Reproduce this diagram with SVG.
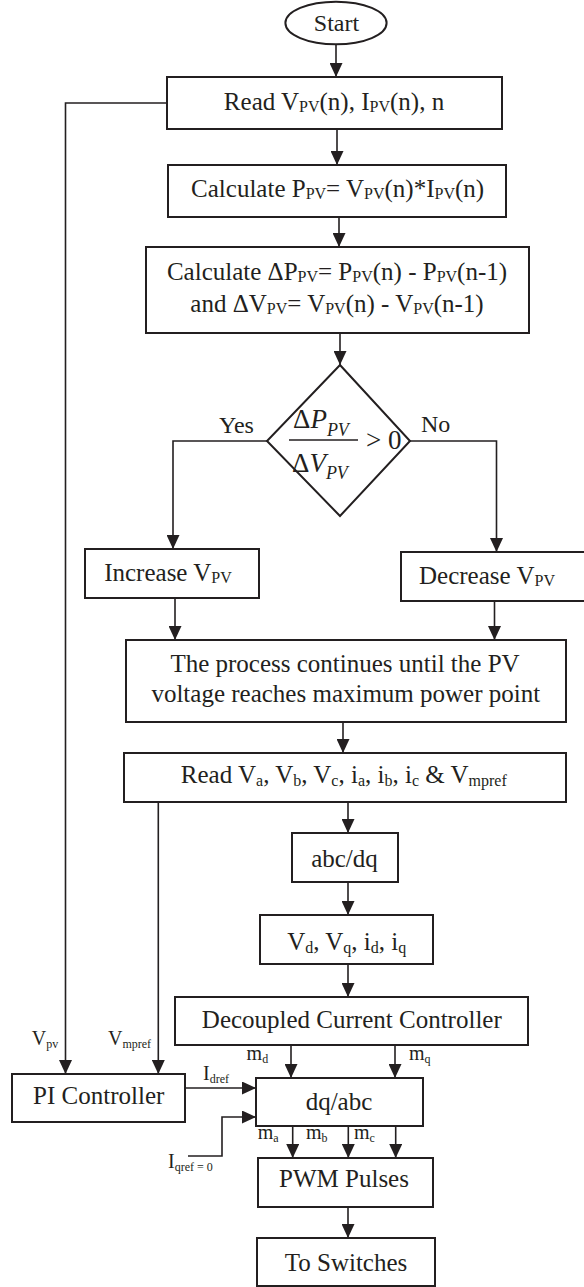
<svg xmlns="http://www.w3.org/2000/svg" width="584" height="1287" viewBox="0 0 584 1287">
<style>
.box{fill:#fff;stroke:#231f20;stroke-width:2}
.ln{fill:none;stroke:#231f20;stroke-width:1.6}
.t{font-family:"Liberation Serif","Times New Roman",serif;font-size:25px;fill:#231f20;text-anchor:middle}
.l{font-family:"Liberation Serif","Times New Roman",serif;font-size:20px;fill:#231f20}
.yn{font-family:"Liberation Serif","Times New Roman",serif;font-size:24px;fill:#231f20}
.s{font-size:16px}
.ls{font-size:12px}
.it{font-family:"Liberation Serif","Times New Roman",serif;font-size:27px;font-style:italic;fill:#231f20}
</style>
<defs>
<marker id="ah" markerUnits="userSpaceOnUse" markerWidth="14" markerHeight="13" refX="14" refY="6.5" orient="auto">
<path d="M0,0 L14,6.5 L0,13 z" fill="#231f20"/>
</marker>
</defs>
<rect width="584" height="1287" fill="#fff"/>
<g id="connectors">
<path class="ln" d="M336,44 V77" marker-end="url(#ah)"/>
<path class="ln" d="M337,129 V165" marker-end="url(#ah)"/>
<path class="ln" d="M339,217 V247" marker-end="url(#ah)"/>
<path class="ln" d="M340,333 V365" marker-end="url(#ah)"/>
<path class="ln" d="M267,441 H173 V549" marker-end="url(#ah)"/>
<path class="ln" d="M410,441 H496.5 V552" marker-end="url(#ah)"/>
<path class="ln" d="M175,598 V640" marker-end="url(#ah)"/>
<path class="ln" d="M494.5,601 V640" marker-end="url(#ah)"/>
<path class="ln" d="M343,722 V753" marker-end="url(#ah)"/>
<path class="ln" d="M348,802 V833" marker-end="url(#ah)"/>
<path class="ln" d="M348,882 V915" marker-end="url(#ah)"/>
<path class="ln" d="M348,964 V997" marker-end="url(#ah)"/>
<path class="ln" d="M167,103 H65.5 V1074" marker-end="url(#ah)"/>
<path class="ln" d="M158.3,802 V1074" marker-end="url(#ah)"/>
<path class="ln" d="M291,1045 V1078" marker-end="url(#ah)"/>
<path class="ln" d="M395,1045 V1078" marker-end="url(#ah)"/>
<path class="ln" d="M185,1088 H256" marker-end="url(#ah)"/>
<path class="ln" d="M188,1156 H222 V1117 H256" marker-end="url(#ah)"/>
<path class="ln" d="M292.7,1126 V1158" marker-end="url(#ah)"/>
<path class="ln" d="M348.3,1126 V1158" marker-end="url(#ah)"/>
<path class="ln" d="M395.7,1126 V1158" marker-end="url(#ah)"/>
<path class="ln" d="M348,1207 V1238" marker-end="url(#ah)"/>
</g>
<g id="labels">
<text class="yn" x="219" y="433">Yes</text>
<text class="yn" x="421" y="432">No</text>
<text class="l" x="31.7" y="1045">V<tspan class="ls" dy="3">pv</tspan></text>
<text class="l" x="108" y="1045">V<tspan class="ls" dy="3">mpref</tspan></text>
<text class="l" x="246.6" y="1060">m<tspan class="ls" dy="3">d</tspan></text>
<text class="l" x="409" y="1060">m<tspan class="ls" dy="3">q</tspan></text>
<text class="l" x="203" y="1080">I<tspan class="ls" dy="3">dref</tspan></text>
<text class="l" x="168" y="1168">I<tspan class="ls" dy="3">qref = 0</tspan></text>
<text class="l" x="257.7" y="1139">m<tspan class="ls" dy="3">a</tspan></text>
<text class="l" x="306" y="1139">m<tspan class="ls" dy="3">b</tspan></text>
<text class="l" x="354" y="1139">m<tspan class="ls" dy="3">c</tspan></text>
</g>
<g id="start">
<ellipse class="box" cx="336" cy="23" rx="50.6" ry="21.3"/>
<text class="t" x="336.5" y="31" style="font-size:24px">Start</text>
</g>
<g id="read">
<rect class="box" x="167" y="77" width="335" height="52"/>
<text class="t" x="334" y="110">Read V<tspan class="s" dy="2">PV</tspan><tspan dy="-2">(n), I</tspan><tspan class="s" dy="2">PV</tspan><tspan dy="-2">(n), n</tspan></text>
</g>
<g id="calc-p">
<rect class="box" x="168" y="165" width="338" height="52"/>
<text class="t" x="337.6" y="197">Calculate P<tspan class="s" dy="2">PV</tspan><tspan dy="-2">= V</tspan><tspan class="s" dy="2">PV</tspan><tspan dy="-2">(n)*I</tspan><tspan class="s" dy="2">PV</tspan><tspan dy="-2">(n)</tspan></text>
</g>
<g id="calc-delta">
<rect class="box" x="146" y="247" width="383" height="86"/>
<text class="t" x="337" y="280">Calculate ΔP<tspan class="s" dy="2">PV</tspan><tspan dy="-2">= P</tspan><tspan class="s" dy="2">PV</tspan><tspan dy="-2">(n) - P</tspan><tspan class="s" dy="2">PV</tspan><tspan dy="-2">(n-1)</tspan></text>
<text class="t" x="337" y="312">and ΔV<tspan class="s" dy="2">PV</tspan><tspan dy="-2">= V</tspan><tspan class="s" dy="2">PV</tspan><tspan dy="-2">(n) - V</tspan><tspan class="s" dy="2">PV</tspan><tspan dy="-2">(n-1)</tspan></text>
</g>
<g id="decision">
<polygon class="box" points="340,365 410,441 340,516 267,441"/>
<text class="it" x="293" y="428"><tspan style="font-style:normal">Δ</tspan>P<tspan style="font-size:18px" dy="8">PV</tspan></text>
<line x1="289" y1="440" x2="358" y2="440" stroke="#231f20" stroke-width="1.3"/>
<text class="it" x="292" y="472"><tspan style="font-style:normal">Δ</tspan>V<tspan style="font-size:18px" dy="7">PV</tspan></text>
<text class="it" x="366" y="449" style="font-style:normal">&gt; 0</text>
</g>
<g id="increase">
<rect class="box" x="85" y="549" width="174" height="49"/>
<text class="t" x="168" y="581">Increase V<tspan class="s" dy="2">PV</tspan></text>
</g>
<g id="decrease">
<rect class="box" x="401" y="552" width="200" height="49"/>
<text class="t" x="487" y="584">Decrease V<tspan class="s" dy="2">PV</tspan></text>
</g>
<g id="process">
<rect class="box" x="126" y="640" width="440" height="82"/>
<text class="t" x="345" y="672">The process continues until the PV</text>
<text class="t" x="345.8" y="702">voltage reaches maximum power point</text>
</g>
<g id="read-abc">
<rect class="box" x="124" y="753" width="442" height="49"/>
<text class="t" x="343.8" y="783">Read V<tspan class="s" dy="3">a</tspan><tspan dy="-3">, V</tspan><tspan class="s" dy="3">b</tspan><tspan dy="-3">, V</tspan><tspan class="s" dy="3">c</tspan><tspan dy="-3">, i</tspan><tspan class="s" dy="3">a</tspan><tspan dy="-3">, i</tspan><tspan class="s" dy="3">b</tspan><tspan dy="-3">, i</tspan><tspan class="s" dy="3">c</tspan><tspan dy="-3"> &amp; V</tspan><tspan class="s" dy="3">mpref</tspan></text>
</g>
<g id="abc-dq">
<rect class="box" x="292" y="833" width="106" height="49"/>
<text class="t" x="344.5" y="867">abc/dq</text>
</g>
<g id="vdq">
<rect class="box" x="260" y="915" width="173" height="49"/>
<text class="t" x="346.7" y="950">V<tspan class="s" dy="3">d</tspan><tspan dy="-3">, V</tspan><tspan class="s" dy="3">q</tspan><tspan dy="-3">, i</tspan><tspan class="s" dy="3">d</tspan><tspan dy="-3">, i</tspan><tspan class="s" dy="3">q</tspan></text>
</g>
<g id="decoupled">
<rect class="box" x="175" y="997" width="353" height="48"/>
<text class="t" x="351.8" y="1028">Decoupled Current Controller</text>
</g>
<g id="pi">
<rect class="box" x="12" y="1074" width="173" height="48"/>
<text class="t" x="98.7" y="1104">PI Controller</text>
</g>
<g id="dq-abc">
<rect class="box" x="256" y="1078" width="167" height="48"/>
<text class="t" x="339" y="1110">dq/abc</text>
</g>
<g id="pwm">
<rect class="box" x="258" y="1158" width="175" height="49"/>
<text class="t" x="344" y="1187">PWM Pulses</text>
</g>
<g id="switches">
<rect class="box" x="257" y="1238" width="178" height="48"/>
<text class="t" x="346" y="1271">To Switches</text>
</g>
</svg>
